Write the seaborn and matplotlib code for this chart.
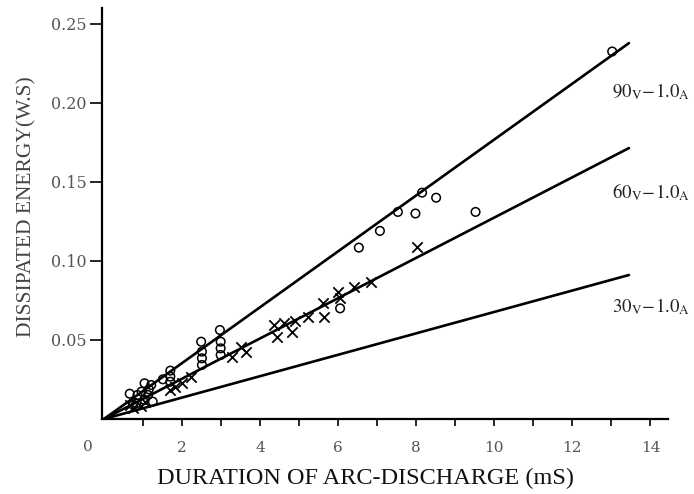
import matplotlib
matplotlib.use("Agg")
import matplotlib.pyplot as plt
import seaborn as sns
import pandas as pd

# ---- data ----
circle_x = [13.02, 8.15, 8.51, 7.98, 7.53, 9.52, 7.07, 6.53, 6.05,
            2.97, 2.99, 2.99, 2.99, 2.49, 2.51, 2.51, 2.51,
            1.70, 1.70, 1.70, 1.51, 1.15, 0.66, 0.86, 1.04, 1.21,
            0.96, 1.13, 1.04, 1.25, 0.83, 0.75]
circle_y = [0.2325, 0.1432, 0.1400, 0.1300, 0.1310, 0.1310, 0.1190, 0.1084, 0.0700,
            0.0563, 0.0489, 0.0447, 0.0405, 0.0489, 0.0426, 0.0384, 0.0342,
            0.0306, 0.0268, 0.0236, 0.0251, 0.0188, 0.0160, 0.0152, 0.0226, 0.0215,
            0.0173, 0.0152, 0.0120, 0.0110, 0.0099, 0.0089]

cross_x = [8.02, 6.83, 6.40, 5.99, 6.05, 5.61, 5.22, 5.65, 4.90, 4.82,
           4.35, 4.61, 4.44, 3.50, 3.63, 3.27, 2.23, 2.00, 1.81, 1.68,
           0.66, 0.75, 0.96, 1.04]
cross_y = [0.1087, 0.0867, 0.0838, 0.0806, 0.0764, 0.0732, 0.0648, 0.0644, 0.0622, 0.0553,
           0.0595, 0.0610, 0.0521, 0.0454, 0.0426, 0.0390, 0.0264, 0.0230, 0.0205, 0.0184,
           0.0089, 0.0068, 0.0082, 0.0110]

line_x = [0.0, 13.45]
line_90v = [0.0, 0.2378]
line_60v = [0.0, 0.1714]
line_30v = [0.0, 0.0911]
line_labels = [r"$90_{\mathrm{V}}\!-\!1.0_{\mathrm{A}}$",
               r"$60_{\mathrm{V}}\!-\!1.0_{\mathrm{A}}$",
               r"$30_{\mathrm{V}}\!-\!1.0_{\mathrm{A}}$"]
label_y = [0.2068, 0.1436, 0.0708]

x_ticks = list(range(1, 15))
x_tick_labels = [str(t) if t % 2 == 0 else "" for t in x_ticks]
y_ticks = [0.05, 0.10, 0.15, 0.20, 0.25]
y_tick_labels = ["0.05", "0.10", "0.15", "0.20", "0.25"]

x_title = "DURATION OF ARC-DISCHARGE (mS)"
y_title = "DISSIPATED ENERGY(W.S)"

# ---- figure ----
sns.set_style("ticks")
plt.rcParams["font.family"] = ["Liberation Serif", "DejaVu Serif"]
plt.rcParams["mathtext.fontset"] = "stix"

fig = plt.figure(figsize=(6.94, 4.94), dpi=100)
ax = fig.add_axes([102 / 694, 75 / 494, 566 / 694, 411 / 494])

circ = pd.DataFrame({"x": circle_x, "y": circle_y})
crs = pd.DataFrame({"x": cross_x, "y": cross_y})
lines = pd.DataFrame({
    "x": line_x * 3,
    "y": line_90v + line_60v + line_30v,
    "series": ["90"] * 2 + ["60"] * 2 + ["30"] * 2,
})

sns.lineplot(data=lines, x="x", y="y", units="series", estimator=None,
             color="black", linewidth=1.9, ax=ax)
sns.scatterplot(data=circ, x="x", y="y", marker="o", s=38,
                facecolor="none", edgecolor="black", linewidth=1.1, ax=ax)
sns.scatterplot(data=crs, x="x", y="y", marker="x", s=55,
                color="black", linewidth=1.3, ax=ax)

for lab, yy in zip(line_labels, label_y):
    ax.text(13.02, yy, lab, ha="left", va="center", fontsize=13.5,
            color="#222222", clip_on=False)

ax.set_xlim(-0.05, 14.45)
ax.set_ylim(0, 0.26)
sns.despine(ax=ax)
for s in ("left", "bottom"):
    ax.spines[s].set_linewidth(1.6)
    ax.spines[s].set_color("black")

ax.set_xticks(x_ticks)
ax.set_xticklabels(x_tick_labels, fontsize=11, color="#555555",
                   family=["DejaVu Serif"])
ax.set_yticks(y_ticks)
ax.set_yticklabels(y_tick_labels, fontsize=11.5, color="#555555",
                   family=["DejaVu Serif"])
ax.tick_params(axis="x", direction="out", length=5, width=1.2, pad=11, color="black")
ax.tick_params(axis="y", direction="out", length=9, width=1.2, pad=2, color="black")

ax.text(-0.42, -0.0177, "0", ha="center", va="center", fontsize=11,
        color="#555555", family=["DejaVu Serif"], clip_on=False)

ax.set_xlabel(x_title, fontsize=17.5, color="#111111")
ax.xaxis.set_label_coords(0.465, -0.118)
ax.set_ylabel(y_title, fontsize=15.5, color="#444444")
ax.yaxis.set_label_coords(-0.115, 0.516)

fig.savefig("out.png", dpi=100)
